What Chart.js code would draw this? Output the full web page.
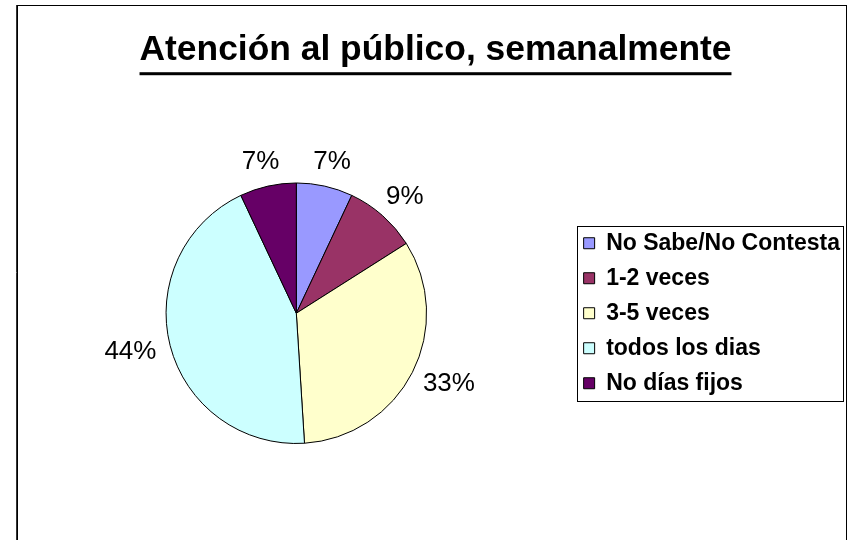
<!DOCTYPE html>
<html>
<head>
<meta charset="utf-8">
<script src="https://cdn.jsdelivr.net/npm/chart.js@4/dist/chart.umd.min.js"></script>
<style>
  html, body { margin: 0; padding: 0; background: #fff; }
  #wrap { width: 853px; height: 540px; }
</style>
</head>
<body>
<div id="wrap"><canvas id="pieChart" width="853" height="540"></canvas></div>
<script>
const chartTitle = "Atención al público, semanalmente";
const categories = ["No Sabe/No Contesta", "1-2 veces", "3-5 veces", "todos los dias", "No días fijos"];
const percentValues = [7, 9, 33, 44, 7];
const sliceColors = ["#9999FF", "#993366", "#FFFFCC", "#CCFFFF", "#660066"];

const FONT = 'Arial, "Liberation Sans", sans-serif';

// outer frame of the chart area (like the Excel chart object border)
const framePlugin = {
    id: 'frame',
    beforeDraw(chart) {
        const ctx = chart.ctx;
        ctx.save();
        ctx.strokeStyle = '#000';
        ctx.lineWidth = 1;
        ctx.strokeRect(17.5, 5.5, 829, 560);
        ctx.strokeStyle = '#333';
        ctx.beginPath();
        ctx.moveTo(16.5, 5);
        ctx.lineTo(16.5, 540);
        ctx.stroke();
        ctx.restore();
    }
};

// underline under the title text
const underlinePlugin = {
    id: 'titleUnderline',
    afterDraw(chart) {
        const tb = chart.titleBlock;
        const opts = tb.options;
        const ctx = chart.ctx;
        ctx.save();
        ctx.font = `bold ${opts.font.size}px ${FONT}`;
        const w = ctx.measureText(opts.text).width;
        const cx = (tb.left + tb.right) / 2;
        const mid = tb.top + opts.padding.top + opts.font.size * 1.2 / 2;
        ctx.fillStyle = '#000';
        ctx.fillRect(cx - w / 2, mid + 0.31 * opts.font.size + 11, w, 3);
        ctx.restore();
    }
};

// box around the legend
const legendBoxPlugin = {
    id: 'legendBox',
    afterDraw(chart) {
        const lg = chart.legend;
        const hb = lg.legendHitBoxes;
        if (!hb || !hb.length) return;
        const top = hb[0].top - 6;
        const bottom = hb[hb.length - 1].top + hb[hb.length - 1].height + 6;
        const left = hb[0].left - 7;
        const right = lg.right - 7;
        const ctx = chart.ctx;
        ctx.save();
        ctx.strokeStyle = '#000';
        ctx.lineWidth = 1;
        ctx.strokeRect(Math.round(left) + 0.5, Math.round(top) + 0.5, Math.round(right - left), Math.round(bottom - top));
        ctx.restore();
    }
};

// percent labels outside the slices
const outsideLabels = {
    id: 'outsideLabels',
    afterDatasetsDraw(chart) {
        const ctx = chart.ctx;
        const meta = chart.getDatasetMeta(0);
        ctx.save();
        ctx.font = `26px ${FONT}`;
        ctx.fillStyle = '#000';
        ctx.textAlign = 'center';
        ctx.textBaseline = 'middle';
        meta.data.forEach((arc, i) => {
            const p = arc.getProps(['x', 'y', 'startAngle', 'endAngle', 'outerRadius'], true);
            const mid = (p.startAngle + p.endAngle) / 2;
            const txt = percentValues[i] + '%';
            const w = ctx.measureText(txt).width;
            const r = p.outerRadius + 15;
            const x = p.x + Math.cos(mid) * r + Math.cos(mid) * w / 2;
            const y = p.y + Math.sin(mid) * r + Math.sin(mid) * 10;
            ctx.fillText(txt, x, y);
        });
        ctx.restore();
    }
};

const ctx = document.getElementById("pieChart").getContext("2d");
new Chart(ctx, {
    type: 'pie',
    data: {
        labels: categories,
        datasets: [{
            data: percentValues,
            backgroundColor: sliceColors,
            borderColor: '#000',
            borderWidth: 1,
        }]
    },
    options: {
        responsive: false,
        animation: false,
        layout: {
            padding: { left: 21, right: 3, top: 0, bottom: 96 }
        },
        plugins: {
            title: {
                display: true,
                text: chartTitle,
                color: '#000',
                font: { family: FONT, size: 35.4, weight: 'bold' },
                padding: { top: 29, bottom: 111 },
            },
            legend: {
                position: 'right',
                fullSize: false,
                labels: {
                    color: '#000',
                    font: { family: FONT, size: 23, weight: 'bold' },
                    boxWidth: 11,
                    boxHeight: 11,
                    padding: 12,
                },
            },
            tooltip: { enabled: false },
        },
    },
    plugins: [framePlugin, underlinePlugin, legendBoxPlugin, outsideLabels],
});
</script>
</body>
</html>
